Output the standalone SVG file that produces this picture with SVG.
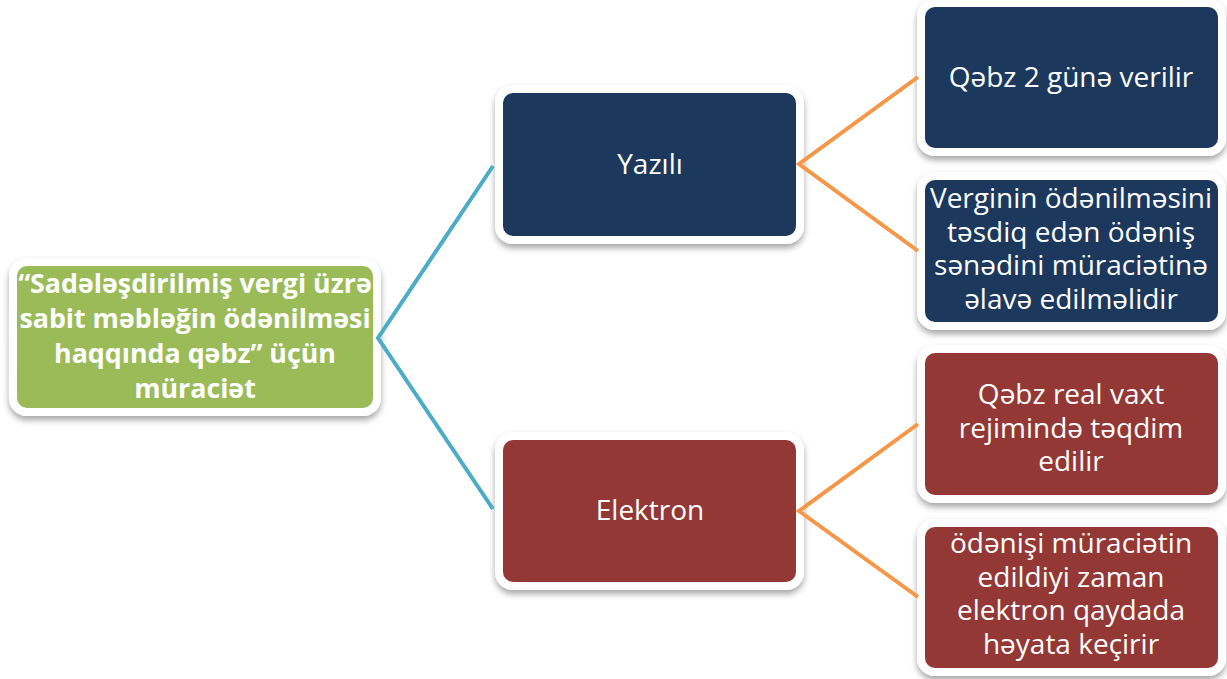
<svg xmlns="http://www.w3.org/2000/svg" width="1227" height="679" viewBox="0 0 1227 679">
<defs>
<filter id="sh" x="-10%" y="-10%" width="120%" height="130%">
<feGaussianBlur in="SourceAlpha" stdDeviation="3"/>
<feOffset dx="0" dy="4" result="b"/>
<feFlood flood-color="#000" flood-opacity="0.35"/>
<feComposite in2="b" operator="in"/>
<feMerge><feMergeNode/><feMergeNode in="SourceGraphic"/></feMerge>
</filter>
<style>
.box{stroke:#fff;stroke-width:8;filter:url(#sh)}
.g{fill:#9BBB59}
.n{fill:#1A375D}
.r{fill:#943735}
.t{font-family:"Open Sans","Liberation Sans",sans-serif;font-size:28px;fill:#fff;text-anchor:middle}
.tb{font-family:"Open Sans","Liberation Sans",sans-serif;font-size:26.8px;font-weight:bold;fill:#fff;text-anchor:middle}
.teal{stroke:#4BACC6;stroke-width:4;fill:none}
.org{stroke:#F79646;stroke-width:4;fill:none}
</style>
</defs>
<rect width="1227" height="679" fill="#fff"/>
<g id="root">
<rect class="box g" x="13" y="262" width="364" height="150" rx="14"/>
<text class="tb"><tspan x="195" y="293">“Sadələşdirilmiş vergi üzrə</tspan><tspan x="195" y="328">sabit məbləğin ödənilməsi</tspan><tspan x="195" y="363">haqqında qəbz” üçün</tspan><tspan x="195" y="398">müraciət</tspan></text>
</g>
<g id="yazili">
<rect class="box n" x="499" y="89" width="301" height="151" rx="14"/>
<text class="t" x="650" y="174">Yazılı</text>
</g>
<g id="elektron">
<rect class="box r" x="499" y="436" width="301" height="150" rx="14"/>
<text class="t" x="650" y="520">Elektron</text>
</g>
<g id="qebz2">
<rect class="box n" x="921" y="3" width="301" height="149" rx="14"/>
<text class="t" x="1071" y="87">Qəbz 2 günə verilir</text>
</g>
<g id="vergi">
<rect class="box n" x="921" y="176" width="301" height="150" rx="14"/>
<text class="t"><tspan x="1071" y="208">Verginin ödənilməsini</tspan><tspan x="1071" y="241.5">təsdiq edən ödəniş</tspan><tspan x="1071" y="275">sənədini müraciətinə</tspan><tspan x="1071" y="308.5">əlavə edilməlidir</tspan></text>
</g>
<g id="real">
<rect class="box r" x="921" y="349" width="301" height="150" rx="14"/>
<text class="t"><tspan x="1071" y="404">Qəbz real vaxt</tspan><tspan x="1071" y="437.5">rejimində təqdim</tspan><tspan x="1071" y="471">edilir</tspan></text>
</g>
<g id="odenis">
<rect class="box r" x="921" y="523" width="301" height="149" rx="14"/>
<text class="t"><tspan x="1071" y="553">ödənişi müraciətin</tspan><tspan x="1071" y="586.5">edildiyi zaman</tspan><tspan x="1071" y="620">elektron qaydada</tspan><tspan x="1071" y="653.5">həyata keçirir</tspan></text>
</g>
<g id="connectors">
<polyline class="teal" points="493,166 378,338 493,509"/>
<polyline class="org" points="918,77 799,164 918,251"/>
<polyline class="org" points="918,424 799,511 918,597"/>
</g>
</svg>
